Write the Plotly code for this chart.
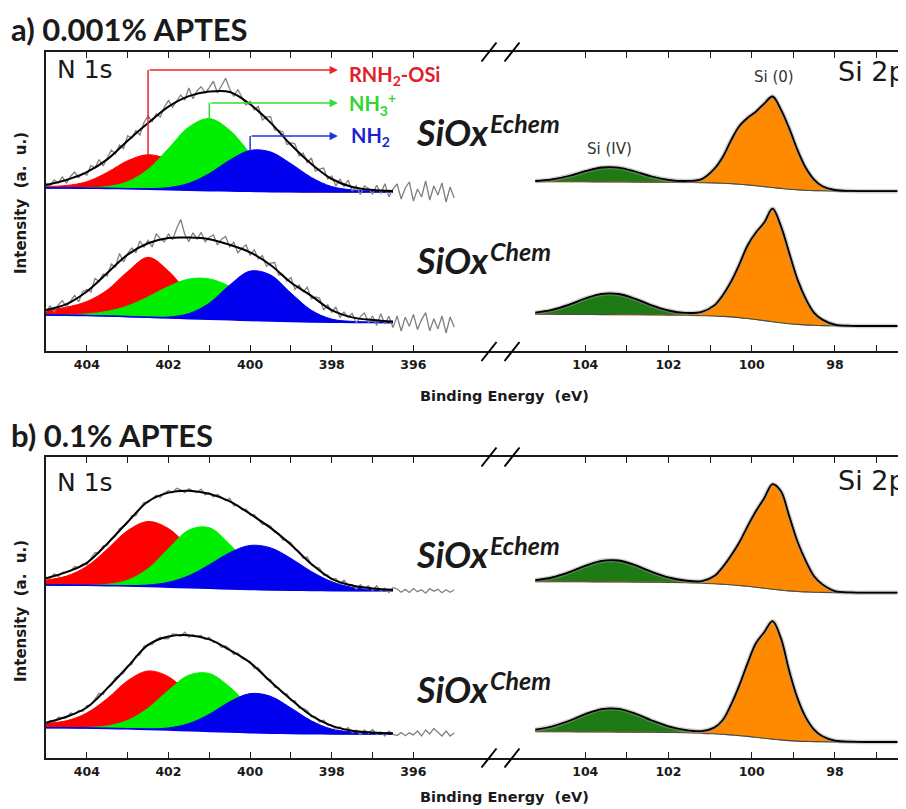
import plotly.graph_objects as go

W, H = 906, 809
SHIFT = 8  # the page body adds an 8 px margin; coordinates below are screen pixels

# ---------------- data ----------------
# N 1s fit grid (binding energy, eV)
N_BE = [405.0, 404.5, 404.0, 403.5, 403.0, 402.5, 402.0, 401.5, 401.0, 400.5,
        400.0, 399.5, 399.0, 398.5, 398.0, 397.5, 397.0, 396.5]

# raw N 1s energy axis
RAW_BE = [405.0, 404.9, 404.8, 404.7, 404.6, 404.5, 404.4, 404.3, 404.2, 404.1,
          404.0, 403.9, 403.8, 403.7, 403.6, 403.5, 403.4, 403.3, 403.2, 403.1,
          403.0, 402.9, 402.8, 402.7, 402.6, 402.5, 402.4, 402.3, 402.2, 402.1,
          402.0, 401.9, 401.8, 401.7, 401.6, 401.5, 401.4, 401.3, 401.2, 401.1,
          401.0, 400.9, 400.8, 400.7, 400.6, 400.5, 400.4, 400.3, 400.2, 400.1,
          400.0, 399.9, 399.8, 399.7, 399.6, 399.5, 399.4, 399.3, 399.2, 399.1,
          399.0, 398.9, 398.8, 398.7, 398.6, 398.5, 398.4, 398.3, 398.2, 398.1,
          398.0, 397.9, 397.8, 397.7, 397.6, 397.5, 397.4, 397.3, 397.2, 397.1,
          397.0, 396.9, 396.8, 396.7, 396.6, 396.5, 396.4, 396.3, 396.2, 396.1,
          396.0, 395.9, 395.8, 395.7, 395.6, 395.5, 395.4, 395.3, 395.2, 395.1,
          395.0]

# panel a, SiOx Echem, N 1s
BL_A_E = [0, 0, -0.2, -0.4, -0.7, -1.1, -1.6, -2.1, -2.6, -3.0, -3.3, -3.6, -3.8, -3.9, -4.0, -4.0, -4.0, -4.0]
RED_A_E = [1.5, 2.5, 6.5, 16, 28, 34.4, 30, 18.5, 8, 2.5, 0.6, 0, 0, 0, 0, 0, 0, 0]
GRN_A_E = [0, 0, 0.4, 1.8, 7, 19.7, 41, 63, 72, 60.8, 38.1, 17.7, 6.1, 1.5, 0.3, 0, 0, 0]
BLU_A_E = [0, 0, 0, 0, 0.1, 0.4, 2, 6.8, 17, 30.8, 40.9, 39.7, 28.1, 14.5, 5.4, 2.1, 1, 0.3]
ENV_A_E = [3, 8, 16, 29, 48, 66, 83, 94, 99, 99, 87, 69, 47, 28, 13, 5, 2, 1]
RAW_A_E = [5, 2, 8, 5, 11, 5, 11.5, 16, 10.5, 15,
           13, 22.5, 20, 28.5, 22, 30.6, 38, 34, 43, 39.5,
           52.3, 50, 57.5, 53, 65.5, 72, 66.5, 74, 71, 81,
           87.4, 80.7, 87, 93, 88, 100, 89.3, 97.4, 101.3, 95,
           100.4, 106.8, 95, 102, 109.7, 99, 91.5, 98.5, 91, 83,
           86.7, 78, 81.5, 68, 71, 71.4, 58, 57.5, 56, 43.5,
           45.2, 44, 32, 35, 25.5, 30, 17, 19, 20, 9,
           12, 2, 9, 1.5, 8, -3, 2.3, -6.4, 2, -0.5,
           -6, 2.8, -5.5, 4.3, -8.9, -1,
           4, -11, 0, 6, -13, -1, -9, 7, -12, 2, -7, 5, -14, 1, -10]

# panel a, SiOx Chem, N 1s
BL_A_C = [0, -0.2, -0.5, -1.0, -1.6, -2.3, -3.0, -3.6, -4.2, -4.8, -5.4, -6.0, -6.5, -6.9, -7.2, -7.4, -7.5, -7.6]
RED_A_C = [5, 8, 14, 26, 45, 60, 47, 25, 11, 5, 2.5, 1.5, 1, 0.5, 0.3, 0.2, 0, 0]
GRN_A_C = [0.1, 0.5, 1.6, 4.6, 10.7, 20.4, 31.5, 39.5, 40.3, 33.5, 22.6, 12.4, 5.5, 2, 0.6, 0.2, 0, 0]
BLU_A_C = [0, 0, 0, 0, 0, 0.1, 1, 5, 16, 34.7, 49.3, 46, 28.4, 11.6, 3.1, 1, 0.5, 0.2]
ENV_A_C = [5, 11, 24, 43, 62, 74, 80, 81, 80, 75, 68, 56, 39, 26, 12, 5, 2.5, 1]
RAW_A_C = [3, 9, 3, 10, 14.5, 7.8, 14, 19.5, 13, 23.5,
           25.5, 23, 36.5, 33.5, 41, 39, 51, 48, 61.5, 53,
           61.4, 67, 62.5, 74, 68, 74.7, 68, 81.3, 76.3, 73.2,
           81, 75.3, 86.5, 95.6, 80.5, 73.4, 82.2, 75.9, 82.6, 73.2,
           77.8, 80, 70, 75.8, 78.5, 68.2, 72.8, 62.3, 66.8, 70.2,
           59.6, 65.5, 56, 59.5, 48.8, 52, 52.5, 40, 40.5, 34,
           37.5, 25.7, 30, 23.3, 27.7, 16.1, 18, 17, 5, 10.3,
           2.8, 8, -2.5, 3, -2.3, 1.6, -8, -1.6, 1.9, -7.6,
           -1, -10.4, 1.3, -9, -1.3, -12.6,
           -1, -16, -2.2, -11.3, 0.6, -14.5, -4.6, 2.3, -15.8, -3.8, -13.9, -1, -18, -2, -12]

# panel b, SiOx Echem, N 1s
BL_B_E = [0, -0.1, -0.3, -0.6, -1.0, -1.5, -2.1, -2.7, -3.3, -3.9, -4.4, -4.9, -5.2, -5.4, -5.6, -5.7, -5.7, -5.7]
RED_B_E = [5, 9, 19, 36.4, 55.4, 65, 58.5, 40.4, 21.5, 8.8, 2.8, 1, 0.5, 0.3, 0.2, 0, 0, 0]
GRN_B_E = [0, 0, 0.2, 1.3, 5.8, 17.8, 38.4, 57.6, 60.6, 44.6, 22.9, 8.2, 2.1, 0.5, 0.1, 0, 0, 0]
BLU_B_E = [0, 0, 0, 0.1, 0.4, 1.5, 4.8, 12, 23.5, 36.2, 44, 42.1, 31.8, 18.9, 8.9, 3.3, 1, 0.3]
ENV_B_E = [6.7, 13, 22.5, 42, 64, 85, 94.5, 97, 94.5, 87.5, 75.5, 62, 45.5, 26.5, 11.8, 5.2, 2.3, 1]
RAW_B_E = [7.7, 6.9, 11.1, 8.4, 12.6, 12.9, 13.6, 18.4, 17.3, 21.2,
           20.2, 26.6, 32.3, 32.2, 39.2, 39.4, 46.6, 48.9, 56.3, 58.6,
           62, 69.3, 69.5, 76.6, 82.6, 82.5, 85.8, 89.8, 87.6, 92.1,
           94.4, 92.2, 96.8, 95.1, 92.3, 96.3, 94.1, 92.5, 95.9, 90.1,
           92.2, 88, 90.6, 87, 84.4, 86.6, 79.3, 79.8, 75.3, 75.7,
           70.1, 70.3, 65.5, 60.7, 60.9, 59.1, 52.8, 51.4, 45, 44.6,
           42.3, 35.5, 33.6, 26.8, 27.9, 20.1, 17.9, 16.9, 9.9, 10,
           5.2, 6.6, 1.2, 4.9, -0.3, 0.5, -4.1, 0.3, -3.3, -0.9,
           -5.4, -0.7, -6, -3.2, -7.5, -2.7,
           -4, -7.2, -4.4, -7.5, -3.6, -6.7, -4.7, -8.2, -3.7, -6.2, -4.2, -7.7, -4.7, -7.2, -4.7]

# panel b, SiOx Chem, N 1s
BL_B_C = [0, -0.1, -0.3, -0.7, -1.1, -1.7, -2.3, -3.0, -3.7, -4.3, -4.9, -5.4, -5.8, -6.0, -6.2, -6.3, -6.3, -6.3]
RED_B_C = [4.5, 7, 15, 29.8, 48.1, 58.4, 53.3, 36.6, 18.9, 7.3, 2.1, 1, 0.5, 0.3, 0.2, 0, 0, 0]
GRN_B_C = [0, 0.1, 0.5, 2.5, 8.4, 21.2, 39.7, 55.5, 57.9, 45, 26, 11.2, 3.6, 0.9, 0.2, 0, 0, 0]
BLU_B_C = [0, 0, 0, 0, 0.1, 0.5, 2.1, 7.1, 17.1, 30.2, 39, 36.8, 25.5, 12.9, 4.8, 2, 0.8, 0.3]
ENV_B_C = [5, 11, 20.5, 40, 62, 84.5, 93.5, 95.5, 92, 82, 70, 51.5, 34, 18, 8, 3.3, 1.5, 0.7]
RAW_B_C = [4, 7.2, 5.4, 10.5, 9.7, 9.9, 14.6, 13.5, 17.3, 16.2,
           22.2, 22.8, 28.6, 34.4, 33.3, 40.3, 42.6, 49.9, 52.3, 54.6,
           61.9, 63.3, 71.7, 73.1, 81.5, 82.8, 83, 87.9, 90.5, 88.9,
           89.2, 93.8, 93.2, 91.5, 95.6, 90.5, 93, 91.2, 92.3, 88.3,
           90.3, 85.4, 85.3, 80.2, 82, 78.7, 73.2, 74.7, 69.2, 67.6,
           66.1, 59.5, 59.8, 55, 49.1, 48.1, 40.5, 39.9, 34.3, 33.8,
           27.2, 26.9, 19.6, 19.4, 17.2, 11, 10.8, 5.7, 7.7, 2.7,
           2.8, -2.2, 0.9, -3.1, 0, -5, -2.4, -6.8, -2.1, -5.5,
           -1.8, -7, -4.1, -8.3, -3.5, -6.6,
           -7.8, -4.9, -8, -5.1, -7.2, -3.3, -8.3, -2.3, -6.3, -0.7, -4.3, -8.3, -3.3, -8.3, -5.3]

# Si 2p grid
SI_BE = [105.2, 104.8, 104.4, 104.0, 103.6, 103.2, 102.8, 102.4, 102.0, 101.6,
         101.2, 100.9, 100.7, 100.5, 100.3, 100.1, 99.9, 99.7, 99.5, 99.3,
         99.1, 98.9, 98.7, 98.5, 98.3, 98.0, 97.6, 97.2, 96.8, 96.5]

SBL_A_E = [0, 0, 0, -0.1, -0.2, -0.3, -0.4, -0.5, -0.6, -0.8, -1.0, -1.2, -1.5, -1.9, -2.5,
           -3.2, -4.0, -4.9, -5.8, -6.7, -7.5, -8.1, -8.6, -8.9, -9.1, -9.3, -9.4, -9.5, -9.5, -9.5]
SIV_A_E = [0.7, 2.3, 5.7, 10.6, 14.4, 14.4, 10.6, 5.7, 2.3, 0.7, 0.15, 0, 0, 0, 0,
           0, 0, 0, 0, 0, 0, 0, 0, 0, 0, 0, 0, 0, 0, 0]
SI0_A_E = [0, 0, 0, 0, 0, 0, 0, 0, 0.2, 0.8, 3.5, 14, 26, 43, 58,
           67, 74, 83, 91, 79, 61, 40, 22.5, 11, 4.5, 1, 0.2, 0, 0, 0]

SBL_A_C = [0, 0, -0.1, -0.2, -0.3, -0.4, -0.5, -0.6, -0.8, -1.0, -1.4, -1.7, -2.1, -2.6, -3.3,
           -4.2, -5.2, -6.3, -7.4, -8.5, -9.4, -10.1, -10.6, -11.0, -11.3, -11.5, -11.7, -11.7, -11.7, -11.7]
SIV_A_C = [1.6, 4.4, 9.5, 16, 20.7, 20.7, 16, 9.5, 4.4, 1.6, 0.4, 0.1, 0, 0, 0,
           0, 0, 0, 0, 0, 0, 0, 0, 0, 0, 0, 0, 0, 0, 0]
SI0_A_C = [0, 0, 0, 0, 0, 0, 0, 0, 0.2, 0.8, 3.5, 10.5, 21, 35, 53,
           73, 87, 98, 113, 97, 71, 45, 26, 12.5, 6, 1.2, 0.2, 0, 0, 0]

SBL_B_E = [0, 0, 0, -0.1, -0.2, -0.3, -0.4, -0.5, -0.7, -1.0, -1.5, -2.0, -2.5, -3.1, -3.8,
           -4.6, -5.5, -6.5, -7.5, -8.4, -9.2, -9.8, -10.2, -10.5, -10.7, -10.9, -11, -11, -11, -11]
SIV_B_E = [1.5, 4.2, 9.3, 16, 21.1, 21.5, 16.9, 10.3, 4.8, 1.7, 0.5, 0.1, 0, 0, 0,
           0, 0, 0, 0, 0, 0, 0, 0, 0, 0, 0, 0, 0, 0, 0]
SI0_B_E = [0, 0, 0, 0, 0, 0, 0, 0, 0.2, 0.5, 1.5, 7.5, 17, 29, 43,
           60, 76, 90, 105, 99, 75, 50, 31, 16, 8, 1.5, 0.3, 0, 0, 0]

SBL_B_C = [0, 0, -0.1, -0.2, -0.3, -0.4, -0.5, -0.6, -0.8, -1.1, -1.6, -2.1, -2.6, -3.2, -3.9,
           -4.7, -5.6, -6.5, -7.4, -8.2, -8.9, -9.4, -9.7, -9.9, -10.1, -10.2, -10.3, -10.3, -10.3, -10.3]
SIV_B_C = [2, 5.2, 10.8, 17.7, 22.9, 23.3, 18.7, 11.8, 5.9, 2.3, 0.7, 0.2, 0, 0, 0,
           0, 0, 0, 0, 0, 0, 0, 0, 0, 0, 0, 0, 0, 0, 0]
SI0_B_C = [0, 0, 0, 0, 0, 0, 0, 0, 0.2, 0.6, 1.5, 6, 14, 30, 50,
           73, 94, 106, 118, 102, 70, 43, 24, 12, 5.5, 1.3, 0.3, 0, 0, 0]

N_TICKS = [404, 403, 402, 401, 400, 399, 398, 397, 396]
N_TICKTEXT = ["404", " ", "402", " ", "400", " ", "398", " ", "396"]
SI_TICKS = [104, 103, 102, 101, 100, 99, 98, 97]
SI_TICKTEXT = ["104", " ", "102", " ", "100", " ", "98", " "]

# ---------------- styling ----------------
RED, GRN, BLU = "#ff0000", "#00ee00", "#0000ee"
DKGRN, ORANGE = "#1d7a14", "#ff8a00"
GRAY = "#808080"
INK = "#1a1a1a"

fig = go.Figure()


def X(p):
    return (p - SHIFT) / W


def Y(p):
    return 1 - (p - SHIFT) / H


def add_n(xa, ya, off, bl, red, grn, blu, env, raw):
    base = [off + b for b in bl]
    for comp, col in ((red, RED), (grn, GRN), (blu, BLU)):
        fig.add_trace(go.Scatter(x=N_BE, y=base, xaxis=xa, yaxis=ya, mode="lines",
                                 line=dict(width=0, shape="spline"), hoverinfo="skip", showlegend=False))
        fig.add_trace(go.Scatter(x=N_BE, y=[b + c for b, c in zip(base, comp)], xaxis=xa, yaxis=ya,
                                 mode="lines", line=dict(color=col, width=1, shape="spline"),
                                 fill="tonexty", fillcolor=col, showlegend=False))
    fig.add_trace(go.Scatter(x=N_BE, y=base, xaxis=xa, yaxis=ya, mode="lines",
                             line=dict(color=BLU, width=1.6, shape="spline"), showlegend=False))
    fig.add_trace(go.Scatter(x=RAW_BE, y=[off + r for r in raw], xaxis=xa, yaxis=ya, mode="lines",
                             line=dict(color=GRAY, width=1.3), showlegend=False))
    fig.add_trace(go.Scatter(x=N_BE, y=[b + e for b, e in zip(base, env)], xaxis=xa, yaxis=ya,
                             mode="lines", line=dict(color="black", width=2, shape="spline"),
                             showlegend=False))
    return base


def add_si(xa, ya, off, bl, siv, si0):
    base = [off + b for b in bl]
    for comp, col in ((siv, DKGRN), (si0, ORANGE)):
        fig.add_trace(go.Scatter(x=SI_BE, y=base, xaxis=xa, yaxis=ya, mode="lines",
                                 line=dict(width=0, shape="spline"), hoverinfo="skip", showlegend=False))
        fig.add_trace(go.Scatter(x=SI_BE, y=[b + c for b, c in zip(base, comp)], xaxis=xa, yaxis=ya,
                                 mode="lines", line=dict(color=col, width=0.8, shape="spline"),
                                 fill="tonexty", fillcolor=col, showlegend=False))
    env = [b + p + q for b, p, q in zip(base, siv, si0)]
    fig.add_trace(go.Scatter(x=SI_BE, y=base, xaxis=xa, yaxis=ya, mode="lines",
                             line=dict(color="#4a4a4a", width=1.1, shape="spline"), showlegend=False))
    fig.add_trace(go.Scatter(x=SI_BE, y=env, xaxis=xa, yaxis=ya, mode="lines",
                             line=dict(color="rgba(150,150,150,0.45)", width=4.5, shape="spline"),
                             showlegend=False))
    fig.add_trace(go.Scatter(x=SI_BE, y=env, xaxis=xa, yaxis=ya, mode="lines",
                             line=dict(color="black", width=1.8, shape="spline"), showlegend=False))


base_a_e = add_n("x", "y", 163, BL_A_E, RED_A_E, GRN_A_E, BLU_A_E, ENV_A_E, RAW_A_E)
add_n("x", "y", 36, BL_A_C, RED_A_C, GRN_A_C, BLU_A_C, ENV_A_C, RAW_A_C)
add_n("x3", "y2", 173, BL_B_E, RED_B_E, GRN_B_E, BLU_B_E, ENV_B_E, RAW_B_E)
add_n("x3", "y2", 30.3, BL_B_C, RED_B_C, GRN_B_C, BLU_B_C, ENV_B_C, RAW_B_C)

add_si("x2", "y", 169.3, SBL_A_E, SIV_A_E, SI0_A_E)
add_si("x2", "y", 36.7, SBL_A_C, SIV_A_C, SI0_A_C)
add_si("x4", "y2", 176.3, SBL_B_E, SIV_B_E, SI0_B_E)
add_si("x4", "y2", 26.3, SBL_B_C, SIV_B_C, SI0_B_C)

# ---------------- axes ----------------
xl = X(46)
xb = X(502)
tickfont = dict(family="DejaVu Sans", size=12.5, color=INK, weight="bold")
xcommon = dict(showline=True, linecolor=INK, linewidth=1.5, mirror="ticks", ticks="inside",
               ticklen=6, tickwidth=1.3, tickcolor=INK, showgrid=False, zeroline=False,
               tickfont=tickfont, tickmode="array", ticklabelstandoff=1, fixedrange=True)
ycommon = dict(showline=True, linecolor=INK, linewidth=1.5, ticks="", showticklabels=False,
               showgrid=False, zeroline=False, fixedrange=True)

fig.update_layout(
    width=W, height=H, margin=dict(l=0, r=0, t=0, b=0),
    paper_bgcolor="white", plot_bgcolor="white", showlegend=False,
    xaxis=dict(domain=[xl, xb], range=[405.0, 393.83], anchor="y",
               tickvals=N_TICKS, ticktext=N_TICKTEXT, **xcommon),
    xaxis2=dict(domain=[xb, 1.0], range=[106.0, 96.1], anchor="y",
                tickvals=SI_TICKS, ticktext=SI_TICKTEXT, **xcommon),
    xaxis3=dict(domain=[xl, xb], range=[405.0, 393.83], anchor="y2",
                tickvals=N_TICKS, ticktext=N_TICKTEXT, **xcommon),
    xaxis4=dict(domain=[xb, 1.0], range=[106.0, 96.1], anchor="y2",
                tickvals=SI_TICKS, ticktext=SI_TICKTEXT, **xcommon),
    yaxis=dict(domain=[Y(351), Y(52)], range=[0, 299], anchor="x", **ycommon),
    yaxis2=dict(domain=[Y(758), Y(457)], range=[0, 301], anchor="x3", **ycommon),
)

# ---------------- text ----------------
ann = []


def text(x, y, s, size, family, color=INK, xanchor="left", weight="normal", style="normal",
         angle=0):
    ann.append(dict(x=X(x), y=Y(y), xref="paper", yref="paper", text=s, showarrow=False,
                    xanchor=xanchor, yanchor="middle", textangle=angle,
                    font=dict(size=size, family=family, color=color, weight=weight, style=style)))


text(9, 29, "a) 0.001% APTES", 31, "Lato", weight="bold")
text(9, 435, "b) 0.1% APTES", 31, "Lato", weight="bold")
for yy in (70, 483):
    text(55, yy, "N 1s", 25, "DejaVu Sans")
for yy in (72, 481):
    text(836, yy, "Si 2p", 27, "DejaVu Sans")
for yy in (396, 797):
    text(504, yy, "Binding Energy\u00a0\u00a0(eV)", 14.5, "DejaVu Sans", xanchor="center", weight="bold")
for yy in (203, 611):
    text(21, yy, "Intensity\u00a0\u00a0(a.\u00a0\u00a0u.)", 15, "DejaVu Sans", xanchor="center",
         weight="bold", angle=-90)

# sample names
for (yb, sup) in ((132, "Echem"), (260, "Chem"), (554, "Echem"), (689, "Chem")):
    text(414, yb, "SiOx", 36, "Lato", weight="bold", style="italic")
    text(488, yb - 9, sup, 25, "Lato", weight="bold", style="italic")

text(774, 77, "Si (0)", 15, "DejaVu Sans", color="#333333", xanchor="center")
text(609, 149, "Si (IV)", 15, "DejaVu Sans", color="#333333", xanchor="center")

text(347, 75, "RNH<sub>2</sub>-OSi", 20, "Lato", color="#e3202a", weight="bold")
text(347, 104, "NH<sub>3</sub><sup>+</sup>", 20, "Lato", color="#2ed62e", weight="bold")
text(349, 137, "NH<sub>2</sub>", 20, "Lato", color="#1e1ed2", weight="bold")

# peak markers with arrows (panel a, SiOx Echem)
shapes = []
tip_x = 397.85
for comp, level, col in ((RED_A_E, 281, "#e8262b"), (GRN_A_E, 248, "#33dd33"), (BLU_A_E, 215, "#2233dd")):
    i = max(range(len(comp)), key=lambda k: comp[k])
    xp = N_BE[i]
    top = base_a_e[i] + comp[i]
    shapes.append(dict(type="line", xref="x", yref="y", x0=xp, x1=xp, y0=top, y1=level,
                       line=dict(color=col, width=1.5)))
    ann.append(dict(x=tip_x, y=level, xref="x", yref="y", ax=xp, ay=level, axref="x", ayref="y",
                    text="", showarrow=True, arrowhead=2, arrowsize=1.1, arrowwidth=1.5,
                    arrowcolor=col))

# axis break marks
for yax in (52, 351.5, 457, 758):
    for cx in (489, 512):
        shapes.append(dict(type="line", xref="paper", yref="paper",
                           x0=X(cx - 7.5), y0=Y(yax + 9.5), x1=X(cx + 7.5), y1=Y(yax - 9.5),
                           line=dict(color="black", width=2)))

fig.update_layout(annotations=ann, shapes=shapes)
fig.write_html("out.html")
